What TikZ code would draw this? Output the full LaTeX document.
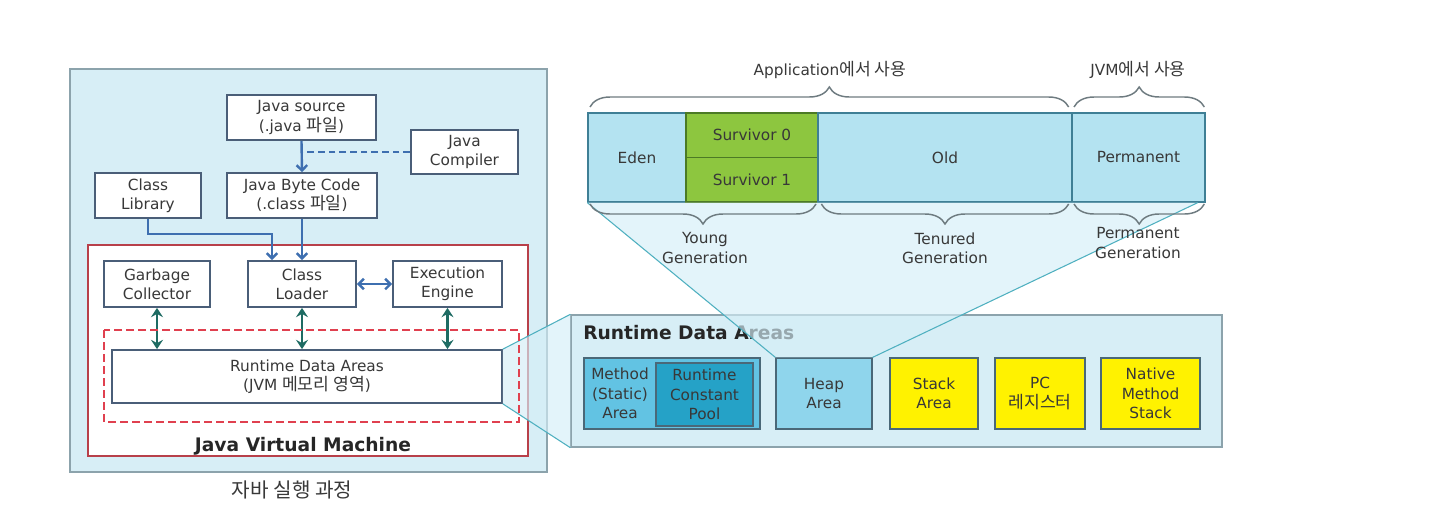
\documentclass[tikz,border=0pt]{standalone}
\usepackage{fontspec}
\setmainfont{DejaVu Sans}
\newfontfamily\kr[Scale=1.12]{Noto Sans CJK KR}
\usetikzlibrary{arrows.meta,decorations.pathreplacing}

\definecolor{txt}{HTML}{383838}
\definecolor{panelbg}{HTML}{D7EEF6}
\definecolor{panelline}{HTML}{8CA3AC}
\definecolor{boxline}{HTML}{4A5E78}
\definecolor{jvmred}{HTML}{B8404A}
\definecolor{dashred}{HTML}{E0404F}
\definecolor{flowblue}{HTML}{3E6FB0}
\definecolor{linkgreen}{HTML}{1E6B63}
\definecolor{heapcell}{HTML}{B4E3F1}
\definecolor{heapline}{HTML}{3F7F95}
\definecolor{survgreen}{HTML}{8DC63F}
\definecolor{survline}{HTML}{4C7A25}
\definecolor{methodblue}{HTML}{62C3E3}
\definecolor{poolblue}{HTML}{25A2C7}
\definecolor{heapblue}{HTML}{8FD5EC}
\definecolor{innerline}{HTML}{4A6878}
\definecolor{bracegray}{HTML}{6E7B80}
\definecolor{fanline}{HTML}{4FB0C0}
\definecolor{fanfill}{HTML}{D4EEF7}

\begin{document}
\begin{tikzpicture}[x=0.75pt, y=-0.75pt,
  every node/.style={font=\fontsize{11.5}{14.5}\selectfont, text=txt, align=center, inner sep=0pt},
  wh/.style 2 args={minimum width=#1*0.75pt, minimum height=#2*0.75pt},
  box/.style={draw=boxline, line width=1.3pt, fill=white},
  cell/.style={draw=heapline, line width=1pt, fill=heapcell},
  surv/.style={draw=survline, line width=1pt, fill=survgreen},
  inner/.style={draw=innerline, line width=1pt},
  flow/.style={draw=flowblue, line width=1.8pt, -{Straight Barb[length=4pt,width=8pt]}},
  flowboth/.style={flow, {Straight Barb[length=4pt,width=8pt]}-{Straight Barb[length=4pt,width=8pt]}},
  link/.style={draw=linkgreen, line width=2pt, {Stealth[length=7pt,width=9pt,inset=2.5pt]}-{Stealth[length=7pt,width=9pt,inset=2.5pt]}},
  gen/.style={decorate, decoration={brace, amplitude=15pt}, draw=bracegray, line width=1.1pt},
  fan/.style={fill=fanfill, fill opacity=0.65},
  bold/.style={font=\bfseries\fontsize{14}{16}\selectfont, text=black!85}
]
\useasboundingbox (0,0) rectangle (1455,525);

\draw[draw=panelline, fill=panelbg, line width=1pt] (70,69) rectangle (547,472);
\draw[draw=jvmred, fill=white, line width=1pt] (88,245) rectangle (528,456);

\node[box, wh={149}{45}] (src) at (301.5,117.5) {Java source\\(.java {\kr 파일})};
\node[box, wh={107}{44}] (compiler) at (464.5,152) {Java\\Compiler};
\node[box, wh={106}{45}] (lib) at (148,195.5) {Class\\Library};
\node[box, wh={150}{45}] (bytecode) at (302,195.5) {Java Byte Code\\(.class {\kr 파일})};
\node[box, wh={106}{46}] (gc) at (157,284) {Garbage\\Collector};
\node[box, wh={108}{46}] (loader) at (302,284) {Class\\Loader};
\node[box, wh={109}{46}] (engine) at (447.5,284) {Execution\\Engine};
\node[box, wh={390}{53}] (rda) at (307,376.5) {Runtime Data Areas\\(JVM {\kr 메모리 영역})};
\node[bold] (jvm) at (303,446) {Java Virtual Machine};
\node[font=\kr\fontsize{13.5}{16}\selectfont] (caption) at (292,490) {자바 실행 과정};

\draw[flow] (src.south) -- (bytecode.north);
\draw[draw=flowblue, line width=1.8pt, dash pattern=on 5pt off 3pt] (compiler.west) -- (compiler.west -| src.south);
\draw[flow] (lib.south) -- ++(0,15) -| ([xshift=-22.5pt]loader.north);
\draw[flow] (bytecode.south) -- (loader.north);
\draw[flowboth] (loader.east) -- (engine.west);
\draw[link] (gc.south) -- (gc.south |- rda.north);
\draw[link] (loader.south) -- (loader.south |- rda.north);
\draw[link] (engine.south) -- (engine.south |- rda.north);

\node[draw=panelline, fill=panelbg, line width=1pt, wh={651}{132}] (rdbox) at (896.5,381) {};
\node[bold, anchor=west] (rdtitle) at (583,333) {Runtime Data Areas};

\fill[fan] (rda.north east) -- (rdbox.north west) -- (rdbox.south west) -- (rda.south east) -- cycle;
\draw[fanline, line width=0.8pt] (rda.north east) -- (rdbox.north west);
\draw[fanline, line width=0.8pt] (rda.south east) -- (rdbox.south west);
\draw[draw=dashred, line width=1.5pt, dash pattern=on 6pt off 3pt] (104,330) rectangle (519,422);

\node[inner, fill=methodblue, wh={176}{71}] (method) at (672,393.5) {};
\node[inner, fill=poolblue, wh={97}{63}] (pool) at (704.5,394.5) {Runtime\\Constant\\Pool};
\node (methodtxt) at (620,393.5) {Method\\(Static)\\Area};
\node[inner, fill=heapblue, wh={96}{71}] (heap) at (824,393.5) {Heap\\Area};
\node[inner, fill=yellow, wh={88}{71}] (stack) at (934,393.5) {Stack\\Area};
\node[inner, fill=yellow, wh={90}{71}] (pc) at (1040,393.5) {PC\\{\kr 레지스터}};
\node[inner, fill=yellow, wh={99}{71}] (native) at (1150.5,393.5) {Native\\Method\\Stack};

\node[cell, wh={98}{89}] (eden) at (637,157.5) {Eden};
\node[surv, wh={132}{44.5}] (s0) at (752,135.25) {Survivor 0};
\node[surv, wh={132}{44.5}] (s1) at (752,179.75) {Survivor 1};
\node[cell, wh={254}{89}] (old) at (945,157.5) {Old};
\node[cell, wh={133}{89}] (perm) at (1138.5,157.5) {Permanent};

\fill[fan] (eden.south west) -- ([xshift=-6pt]perm.south east) -- (heap.north east) -- (heap.north west) -- cycle;
\draw[fanline, line width=0.8pt] (eden.south west) -- (heap.north west);
\draw[fanline, line width=0.8pt] ([xshift=-6pt]perm.south east) -- (heap.north east);

\draw[gen] ([xshift=2pt,yshift=4pt]eden.north west) -- ([xshift=-3pt,yshift=4pt]old.north east);
\draw[gen] ([xshift=2pt,yshift=4pt]perm.north west) -- ([xshift=-1pt,yshift=4pt]perm.north east);
\draw[gen] ([xshift=-2pt,yshift=-1pt]s1.south east) -- ([xshift=2pt,yshift=-1pt]eden.south west);
\draw[gen] ([xshift=-3pt,yshift=-1pt]old.south east) -- ([xshift=3pt,yshift=-1pt]old.south west);
\draw[gen] ([xshift=-1pt,yshift=-1pt]perm.south east) -- ([xshift=2pt,yshift=-1pt]perm.south west);

\node (app) at (830,70) {Application{\kr 에서 사용}};
\node (jvmuse) at (1138,70) {JVM{\kr 에서 사용}};
\node (young) at (705,248) {Young\\Generation};
\node (tenured) at (945,248) {Tenured\\Generation};
\node (permgen) at (1138,243) {Permanent\\Generation};
\end{tikzpicture}
\end{document}
